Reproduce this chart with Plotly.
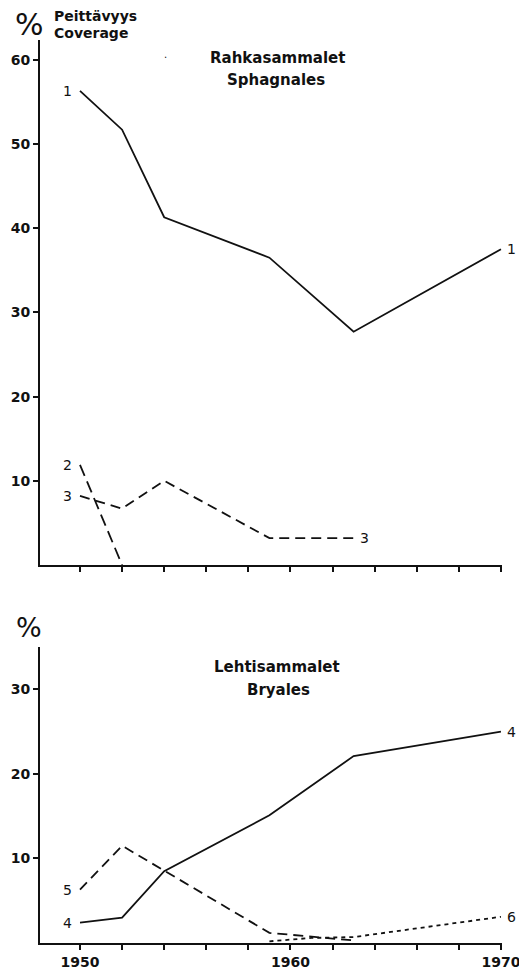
import plotly.graph_objects as go

# ---- data ----
years_1 = [1950, 1952, 1954, 1959, 1963, 1970]
cov_1 = [56.3, 51.7, 41.3, 36.5, 27.7, 37.5]
years_2 = [1950, 1952]
cov_2 = [11.9, 0.0]
years_3 = [1950, 1952, 1954, 1959, 1963]
cov_3 = [8.2, 6.7, 10.0, 3.2, 3.2]

years_4 = [1950, 1952, 1954, 1959, 1963, 1970]
cov_4 = [2.4, 3.0, 8.5, 15.1, 22.1, 25.0]
years_5 = [1950, 1952, 1959, 1963]
cov_5 = [6.3, 11.5, 1.2, 0.3]
years_6 = [1959, 1961, 1963, 1970]
cov_6 = [0.2, 0.6, 0.7, 3.1]

x_tick_years = list(range(1950, 1971, 2))
x_tick_labels = ["1950", "", "", "", "", "1960", "", "", "", "", "1970"]
top_y_ticks = [10, 20, 30, 40, 50, 60]
bottom_y_ticks = [10, 20, 30]

W, H = 519, 972
FONT = "DejaVu Sans"
BLACK = "#111111"


def px(x):
    return x / W


def py(y):
    return 1 - y / H


fig = go.Figure()

series = [
    (years_1, cov_1, "solid", "x", "y"),
    (years_2, cov_2, "12px,6px", "x", "y"),
    (years_3, cov_3, "10px,6px", "x", "y"),
    (years_4, cov_4, "solid", "x2", "y2"),
    (years_5, cov_5, "10px,6px", "x2", "y2"),
    (years_6, cov_6, "4px,4px", "x2", "y2"),
]
for xs, ys, dash, xa, ya in series:
    fig.add_trace(go.Scatter(x=xs, y=ys, mode="lines", xaxis=xa, yaxis=ya,
                             line=dict(color=BLACK, width=1.8, dash=dash),
                             showlegend=False, hoverinfo="skip"))

axis_common = dict(
    showgrid=False, zeroline=False, showline=True, linecolor=BLACK,
    linewidth=2, ticks="outside", ticklen=5, tickwidth=1.6, tickcolor=BLACK,
    automargin=False, ticklabeloverflow="allow",
    tickfont=dict(family=FONT, size=14, color=BLACK, weight="bold"),
)
xr = [1948.1, 1970.05]
x_dom = [px(40), px(502)]
fig.update_layout(
    width=W, height=H, template="none",
    margin=dict(l=0, r=0, t=0, b=0),
    paper_bgcolor="white", plot_bgcolor="white",
    xaxis=dict(domain=x_dom, range=xr, anchor="y",
               tickvals=x_tick_years, ticktext=[""] * len(x_tick_years),
               **axis_common),
    yaxis=dict(domain=[py(565), py(40)], range=[0, 62.35], anchor="x",
               tickvals=top_y_ticks, **axis_common),
    xaxis2=dict(domain=x_dom, range=xr, anchor="y2",
                tickvals=x_tick_years, ticktext=x_tick_labels,
                **axis_common),
    yaxis2=dict(domain=[py(943), py(647)], range=[0, 35.0], anchor="x2",
                tickvals=bottom_y_ticks, **axis_common),
)

# series number labels, anchored at series start/end points
lab_font = dict(family=FONT, size=14, color=BLACK)


def label(text, x, y, side, xref, yref):
    fig.add_annotation(text=text, x=x, y=y, xref=xref, yref=yref,
                       showarrow=False, font=lab_font,
                       xanchor="right" if side == "left" else "left",
                       xshift=-6 if side == "left" else 4, yanchor="middle")


label("1", years_1[0], cov_1[0], "left", "x", "y")
label("1", years_1[-1], cov_1[-1], "right", "x", "y")
label("2", years_2[0], cov_2[0], "left", "x", "y")
label("3", years_3[0], cov_3[0], "left", "x", "y")
label("3", years_3[-1], cov_3[-1], "right", "x", "y")
label("4", years_4[0], cov_4[0], "left", "x2", "y2")
label("4", years_4[-1], cov_4[-1], "right", "x2", "y2")
label("5", years_5[0], cov_5[0], "left", "x2", "y2")
label("6", years_6[-1], cov_6[-1], "right", "x2", "y2")


def text(t, x, y, size=14, anchor="center", bold=True):
    f = dict(family=FONT, size=size, color=BLACK)
    if bold:
        f["weight"] = "bold"
    fig.add_annotation(text=t, x=px(x), y=py(y), xref="paper", yref="paper",
                       showarrow=False, font=f, xanchor=anchor, yanchor="middle")


text("Rahkasammalet", 277, 58, size=15)
text("Sphagnales", 276, 80, size=15)
text("Lehtisammalet", 277, 667, size=15)
text("Bryales", 278, 690, size=15)
text("Peittävyys", 52, 16, size=14, anchor="left")
text("Coverage", 52, 33, size=14, anchor="left")
text("%", 29, 24, size=30, bold=False)
text("%", 29, 627, size=27, bold=False)
text(".", 165, 55, size=10, bold=False)

fig.write_html("out.html",
               config={"displayModeBar": False},
               post_script="document.body.style.margin='0';"
                           "document.body.style.overflow='hidden';")
